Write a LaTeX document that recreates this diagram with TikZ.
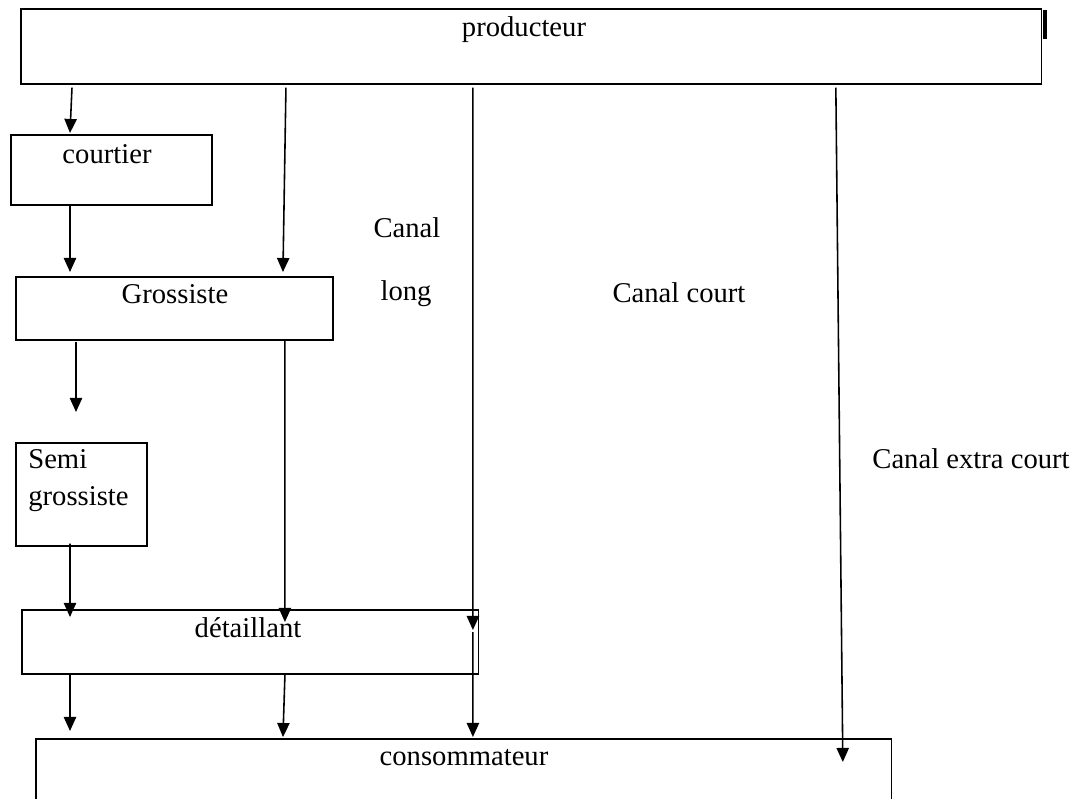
\documentclass[tikz,border=0pt]{standalone}
\usepackage{fontspec}
\setmainfont{Liberation Serif}
\usepackage{tikz}
\usetikzlibrary{arrows.meta}

\tikzset{
    boite/.style={draw, line width=0.9pt, rectangle, anchor=north west, inner sep=0pt},
    fleche/.style={-{Triangle[length=8pt,width=7pt]}, line width=0.9pt},
    etiq/.style={inner sep=0pt, font=\fontsize{16.3}{19}\selectfont}
}

\begin{document}
\begin{tikzpicture}[x=0.02cm, y=-0.02cm]
        \clip (0,0) rectangle (1078,798);
        \useasboundingbox (0,0) rectangle (1078,798);
        % boxes
        \node[boite, minimum width=20.42cm, minimum height=1.5cm] (prod) at (20,8) {};
        \node[boite, minimum width=4.02cm, minimum height=1.4cm] (court) at (10,134) {};
        \node[boite, minimum width=6.34cm, minimum height=1.26cm] (gros) at (15,276) {};
        \node[boite, minimum width=2.62cm, minimum height=2.06cm] (semi) at (15,442) {};
        \node[boite, minimum width=9.14cm, minimum height=1.28cm] (det) at (21,609) {};
        \node[boite, minimum width=17.12cm, minimum height=2cm] (cons) at (35,738) {};
        % small mark right of the top box
        \draw[line width=1.8pt] (1045,10) -- (1045,39);
        % box texts
        \node[etiq] (tprod) at (524,30) {producteur};
        \node[etiq] (tcourt) at (107,154) {courtier};
        \node[etiq] (tgros) at (175,294) {Grossiste};
        \node[etiq, anchor=west] (tsemi) at (28,459) {Semi};
        \node[etiq, anchor=west] (tsemib) at (28,499) {grossiste};
        \node[etiq] (tdet) at (248,628) {détaillant};
        \node[etiq] (tcons) at (464,758) {consommateur};
        % channel names
        \node[etiq] (canal) at (407,228) {Canal};
        \node[etiq] (long) at (406,294) {long};
        \node[etiq] (court2) at (679,293) {Canal court};
        \node[etiq] (extra) at (971,459) {Canal\ extra court};
        % arrows
        \draw[fleche] ([xshift=1.04cm, yshift=-0.06cm]prod.south west) -- ([xshift=1.2cm, yshift=0.02cm]court.north west);
        \draw[fleche] ([xshift=1.2cm]court.south west) -- ([xshift=1.1cm, yshift=0.08cm]gros.north west);
        \draw[fleche] ([xshift=5.32cm, yshift=-0.06cm]prod.south west) -- ([xshift=5.36cm, yshift=0.08cm]gros.north west);
        \draw[fleche] ([xshift=1.22cm, yshift=-0.02cm]gros.south west) -- ([xshift=1.22cm, yshift=0.6cm]semi.north west);
        \draw[fleche] ([xshift=5.4cm]gros.south west) -- ([xshift=5.28cm, yshift=-0.26cm]det.north west);
        \draw[fleche] ([xshift=9.06cm, yshift=-0.06cm]prod.south west) -- ([xshift=9.04cm, yshift=-0.42cm]det.north west);
        \draw[fleche] ([xshift=16.32cm, yshift=-0.06cm]prod.south west) -- ([xshift=16.16cm, yshift=-0.48cm]cons.north west);
        \draw[fleche] ([xshift=1.1cm, yshift=0.06cm]semi.south west) -- ([xshift=0.98cm, yshift=-0.16cm]det.north west);
        \draw[fleche] ([xshift=0.98cm]det.south west) -- ([xshift=0.7cm, yshift=0.14cm]cons.north west);
        \draw[fleche] ([xshift=5.28cm]det.south west) -- ([xshift=4.96cm, yshift=0.02cm]cons.north west);
        \draw[fleche] ([xshift=9.04cm, yshift=-0.46cm]det.north west) -- ([xshift=8.76cm, yshift=0.02cm]cons.north west);
\end{tikzpicture}
\end{document}
